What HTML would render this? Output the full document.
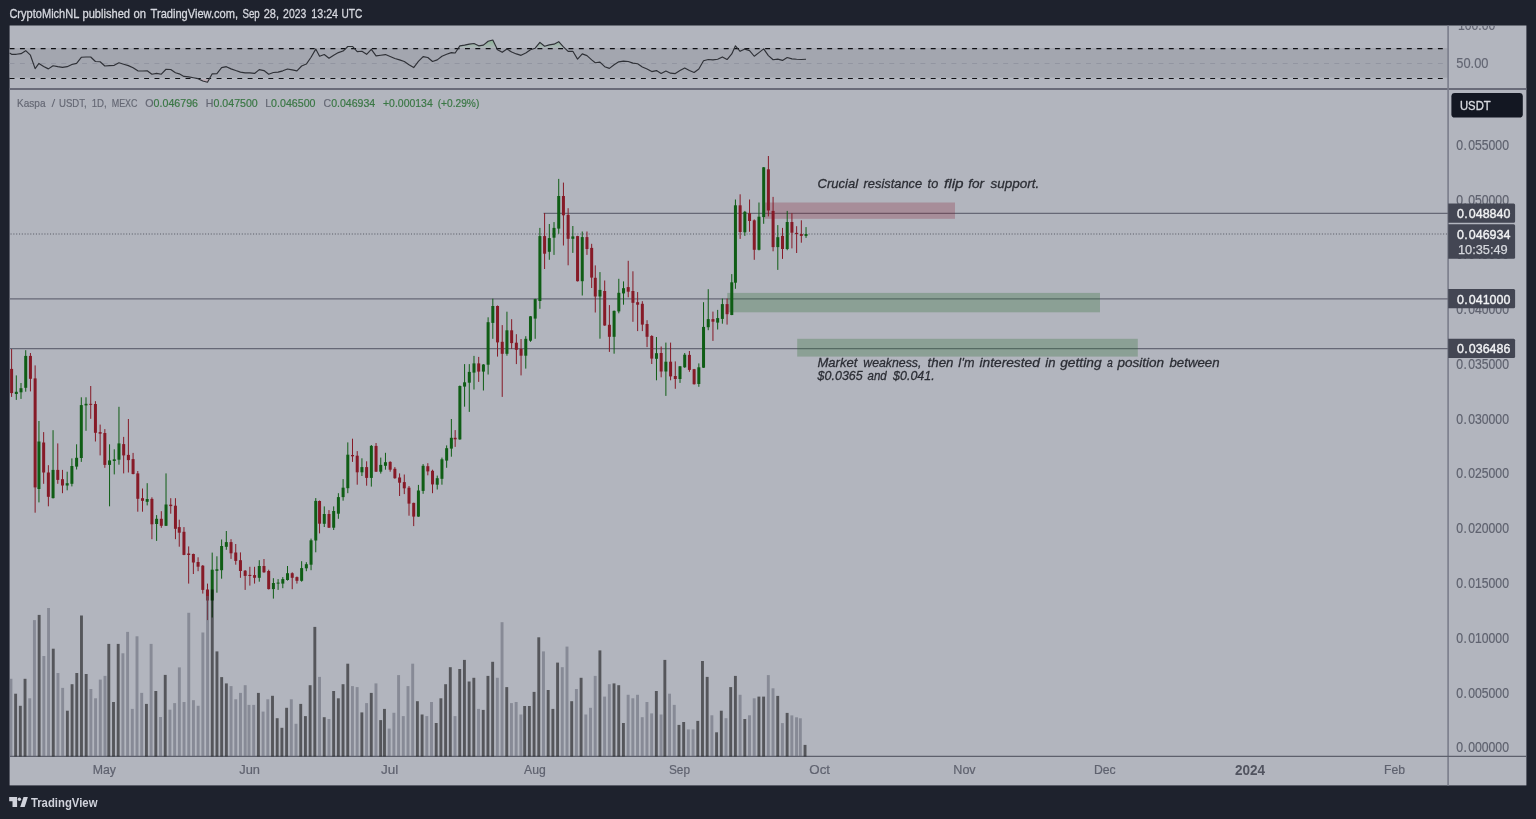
<!DOCTYPE html>
<html lang="en"><head><meta charset="utf-8"><title>KASUSDT chart</title>
<style>html,body{margin:0;padding:0;background:#1e222d;overflow:hidden}body{width:1536px;height:819px;position:relative}svg{position:absolute;left:0;top:0;display:block}text{font-family:'Liberation Sans', Arial, sans-serif;white-space:pre}</style>
</head><body>
<svg width="1536" height="819" viewBox="0 0 1536 819">
<defs><clipPath id="cp"><rect x="9.6" y="25.5" width="1516.8" height="759.9"/></clipPath><linearGradient id="gu" gradientUnits="userSpaceOnUse" x1="0" y1="48.6" x2="0" y2="26.3"><stop offset="0" stop-color="#4caf50" stop-opacity="0.02"/><stop offset="1" stop-color="#4caf50" stop-opacity="1"/></linearGradient><linearGradient id="gd" gradientUnits="userSpaceOnUse" x1="0" y1="78.4" x2="0" y2="100.7"><stop offset="0" stop-color="#ff5252" stop-opacity="0.02"/><stop offset="1" stop-color="#ff5252" stop-opacity="1"/></linearGradient></defs>
<rect x="0" y="0" width="1536" height="819" fill="#1e222d"/>
<rect x="9.6" y="25.5" width="1516.8" height="759.9" fill="#b2b5be"/>
<g id="rsi">
<rect x="9.6" y="48.1" width="1438.5" height="29.5" fill="#a3a6af"/>
<polygon points="345.62,48.6 347.8,46.48 352.51,46.48 354.42,48.6" fill="url(#gu)"/>
<polygon points="458.05,48.6 459.87,45.83 464.58,45.18 469.29,44.14 473.99,43.49 478.7,45.83 483.41,45.18 488.11,41.28 492.82,39.97 496.98,48.6" fill="url(#gu)"/>
<polygon points="533.91,48.6 535.18,48.18 539.89,42.32 544.6,46.22 549.3,44.92 554.01,44.14 558.72,41.67 563.43,46.88 565.26,48.6" fill="url(#gu)"/>
<polygon points="734.18,48.6 735.43,45.83 737.82,48.6" fill="url(#gu)"/>
<polygon points="196.81,78.4 198.08,78.65 202.79,80.99 207.49,82.29 209.66,78.4" fill="url(#gd)"/>
<line x1="9.6" y1="63.5" x2="1448.1" y2="63.5" stroke="#9295a1" stroke-width="1" stroke-dasharray="4.9 5.45"/>
<line x1="9.6" y1="48.55" x2="1448.1" y2="48.55" stroke="#0d0e12" stroke-width="1.15" stroke-dasharray="4.9 5.45"/>
<line x1="9.6" y1="78.5" x2="1448.1" y2="78.5" stroke="#0d0e12" stroke-width="1.15" stroke-dasharray="4.9 5.45"/>
<polyline fill="none" stroke="#2f3137" stroke-width="1.15" stroke-linejoin="round" points="9.6,52.99 11.6,54.3 16.31,54.3 21.01,53.65 25.72,50.65 30.43,55.21 35.13,68.62 38.94,63.41 43.65,66.41 48.36,68.88 53.06,65.76 57.77,66.67 62.48,67.32 67.18,66.67 71.89,64.45 76.6,63.41 81.3,57.29 86.01,57.03 90.72,57.03 95.43,61.46 100.13,61.72 104.84,66.02 109.55,65.62 114.25,65.36 118.96,62.76 123.67,64.32 128.38,65.62 133.08,67.71 137.79,70.83 142.5,70.96 147.2,70.83 151.91,74.22 156.62,73.44 161.32,74.22 166.03,69.27 170.74,69.53 175.44,72.79 179.25,73.83 183.96,76.43 188.67,76.82 193.37,77.73 198.08,78.65 202.79,80.99 207.49,82.29 212.2,73.83 216.91,73.57 221.61,67.58 226.32,66.67 231.03,68.88 235.74,70.57 240.44,72.14 245.15,72.92 249.86,72.92 254.56,73.44 259.27,69.66 263.98,70.57 268.69,74.22 273.39,72.53 278.1,72.14 282.81,70.83 287.51,69.01 292.22,69.92 296.93,70.83 301.63,66.02 306.34,64.06 311.05,57.29 315.75,49.09 319.56,56.25 324.27,54.56 328.98,58.2 333.68,55.21 338.39,52.6 343.1,51.04 347.8,46.48 352.51,46.48 357.22,51.69 361.93,51.3 366.63,54.3 371.34,49.35 376.05,55.86 380.75,55.21 385.46,54.56 390.17,56.51 394.87,58.46 399.58,59.9 404.29,61.46 409,64.71 413.7,67.58 418.41,61.46 423.12,56.64 427.82,57.55 432.53,61.46 437.24,59.9 441.94,56.25 446.65,54.3 451.36,52.6 455.16,52.99 459.87,45.83 464.58,45.18 469.29,44.14 473.99,43.49 478.7,45.83 483.41,45.18 488.11,41.28 492.82,39.97 497.53,49.74 502.23,52.34 506.94,49.09 511.65,51.95 516.36,53.91 521.06,55.34 525.77,52.99 530.48,49.74 535.18,48.18 539.89,42.32 544.6,46.22 549.3,44.92 554.01,44.14 558.72,41.67 563.43,46.88 568.13,51.3 572.84,51.3 577.55,59.11 582.25,53.91 586.96,55.6 591.67,59.9 595.27,62.76 599.98,62.11 604.69,66.67 609.4,68.36 614.1,64.71 618.81,61.85 623.52,61.07 628.22,61.46 632.93,63.15 637.64,63.8 642.34,66.93 647.05,69.01 651.76,71.61 656.47,70.57 661.17,73.44 665.88,70.96 670.59,73.18 675.29,73.57 680,70.57 684.71,67.97 689.41,70.57 694.12,72.53 698.83,69.01 703.54,60.81 708.24,59.51 712.95,59.9 717.66,59.24 722.36,56.9 727.07,59.51 731.78,53.91 735.43,45.83 740.14,51.3 744.85,49.09 749.56,50.65 754.26,56.25 758.97,52.6 763.68,48.83 768.38,55.6 773.09,59.77 777.8,59.11 782.5,60.42 787.21,57.55 791.92,58.85 796.63,59.24 801.33,59.51 806.04,59.24"/>
</g>
<line x1="9.6" y1="89" x2="1526.4" y2="89" stroke="#696b79" stroke-width="2"/>
<line x1="1448.1" y1="25.5" x2="1448.1" y2="785.4" stroke="#7b7e8c" stroke-width="1.65"/>
<line x1="9.6" y1="756.4" x2="1526.4" y2="756.4" stroke="#5d606c" stroke-width="1.3"/>
<g id="levels">
<line x1="9.6" y1="298.8" x2="1448.1" y2="298.8" stroke="#666876" stroke-width="1.3"/>
<line x1="9.6" y1="348.63" x2="1448.1" y2="348.63" stroke="#666876" stroke-width="1.26"/>
<line x1="543.6" y1="213.33" x2="1448.1" y2="213.33" stroke="#666876" stroke-width="1.3"/>
<line x1="10.51" y1="234" x2="1448.1" y2="234" stroke="#5b5e69" stroke-width="1.1" stroke-dasharray="1.1 1.72"/>
</g>
<g id="zones">
<rect x="764.7" y="202.5" width="190.3" height="16.3" fill="#86172a" fill-opacity="0.25"/>
<rect x="727.3" y="292.9" width="372.7" height="19.4" fill="#336f39" fill-opacity="0.3"/>
<rect x="797.2" y="338.8" width="340.6" height="17.8" fill="#336f39" fill-opacity="0.3"/>
</g>
<g id="candles">
<path d="M11.6 349.1V396.9" stroke="#861a27" stroke-width="1" fill="none"/><rect x="10.1" y="368.9" width="3" height="24.2" fill="#861a27"/>
<path d="M16.31 375.4V399.9" stroke="#0f5d15" stroke-width="1" fill="none"/><rect x="14.81" y="391.8" width="3" height="2.2" fill="#0f5d15"/>
<path d="M21.01 383V398.9" stroke="#0f5d15" stroke-width="1" fill="none"/><rect x="19.51" y="388.2" width="3" height="4.1" fill="#0f5d15"/>
<path d="M25.72 350.2V391.7" stroke="#0f5d15" stroke-width="1" fill="none"/><rect x="24.22" y="355.9" width="3" height="31.9" fill="#0f5d15"/>
<path d="M30.43 353V391.4" stroke="#861a27" stroke-width="1" fill="none"/><rect x="28.93" y="355.9" width="3" height="22.9" fill="#861a27"/>
<path d="M35.13 365.4V512.7" stroke="#861a27" stroke-width="1" fill="none"/><rect x="33.63" y="378.4" width="3" height="109" fill="#861a27"/>
<path d="M38.94 421V502.4" stroke="#0f5d15" stroke-width="1" fill="none"/><rect x="37.44" y="441.5" width="3" height="47.5" fill="#0f5d15"/>
<path d="M43.65 432.1V483.8" stroke="#861a27" stroke-width="1" fill="none"/><rect x="42.15" y="442.5" width="3" height="30" fill="#861a27"/>
<path d="M48.36 465.2V506.3" stroke="#861a27" stroke-width="1" fill="none"/><rect x="46.86" y="472.5" width="3" height="24.3" fill="#861a27"/>
<path d="M53.06 430.2V498.5" stroke="#0f5d15" stroke-width="1" fill="none"/><rect x="51.56" y="469.9" width="3" height="28.2" fill="#0f5d15"/>
<path d="M57.77 443.4V483.8" stroke="#861a27" stroke-width="1" fill="none"/><rect x="56.27" y="469.9" width="3" height="10" fill="#861a27"/>
<path d="M62.48 469.9V493.2" stroke="#861a27" stroke-width="1" fill="none"/><rect x="60.98" y="479.2" width="3" height="6.3" fill="#861a27"/>
<path d="M67.18 471.7V490.3" stroke="#0f5d15" stroke-width="1" fill="none"/><rect x="65.68" y="483.2" width="3" height="2.3" fill="#0f5d15"/>
<path d="M71.89 458.4V486.4" stroke="#0f5d15" stroke-width="1" fill="none"/><rect x="70.39" y="466" width="3" height="17.8" fill="#0f5d15"/>
<path d="M76.6 444.3V469.5" stroke="#0f5d15" stroke-width="1" fill="none"/><rect x="75.1" y="457.8" width="3" height="8.8" fill="#0f5d15"/>
<path d="M81.3 397.3V461.9" stroke="#0f5d15" stroke-width="1" fill="none"/><rect x="79.8" y="405.1" width="3" height="52.9" fill="#0f5d15"/>
<path d="M86.01 397.3V430.8" stroke="#0f5d15" stroke-width="1" fill="none"/><rect x="84.51" y="403.8" width="3" height="1.6" fill="#0f5d15"/>
<path d="M90.72 386V418.8" stroke="#861a27" stroke-width="1" fill="none"/><rect x="89.22" y="403.85" width="3" height="1" fill="#861a27"/>
<path d="M95.43 401.2V441.5" stroke="#861a27" stroke-width="1" fill="none"/><rect x="93.93" y="404" width="3" height="28.8" fill="#861a27"/>
<path d="M100.13 424.6V455.4" stroke="#861a27" stroke-width="1" fill="none"/><rect x="98.63" y="432.1" width="3" height="1.6" fill="#861a27"/>
<path d="M104.84 429.1V467.8" stroke="#861a27" stroke-width="1" fill="none"/><rect x="103.34" y="433" width="3" height="31.9" fill="#861a27"/>
<path d="M109.55 444.3V506.3" stroke="#0f5d15" stroke-width="1" fill="none"/><rect x="108.05" y="460.4" width="3" height="4.5" fill="#0f5d15"/>
<path d="M114.25 449.3V474.4" stroke="#0f5d15" stroke-width="1" fill="none"/><rect x="112.75" y="459.3" width="3" height="1.7" fill="#0f5d15"/>
<path d="M118.96 406.8V464.7" stroke="#0f5d15" stroke-width="1" fill="none"/><rect x="117.46" y="443.4" width="3" height="16.3" fill="#0f5d15"/>
<path d="M123.67 436.9V473.4" stroke="#861a27" stroke-width="1" fill="none"/><rect x="122.17" y="444.1" width="3" height="11.3" fill="#861a27"/>
<path d="M128.38 419V472.5" stroke="#861a27" stroke-width="1" fill="none"/><rect x="126.88" y="454.9" width="3" height="5.2" fill="#861a27"/>
<path d="M133.08 452.9V474.4" stroke="#861a27" stroke-width="1" fill="none"/><rect x="131.58" y="459.1" width="3" height="14.9" fill="#861a27"/>
<path d="M137.79 471V511.7" stroke="#861a27" stroke-width="1" fill="none"/><rect x="136.29" y="473.4" width="3" height="25.4" fill="#861a27"/>
<path d="M142.5 488.5V511.7" stroke="#861a27" stroke-width="1" fill="none"/><rect x="141" y="498.2" width="3" height="2.6" fill="#861a27"/>
<path d="M147.2 483.2V505.4" stroke="#0f5d15" stroke-width="1" fill="none"/><rect x="145.7" y="499" width="3" height="2.8" fill="#0f5d15"/>
<path d="M151.91 497.3V539.2" stroke="#861a27" stroke-width="1" fill="none"/><rect x="150.41" y="498.9" width="3" height="25.4" fill="#861a27"/>
<path d="M156.62 515.1V540.9" stroke="#0f5d15" stroke-width="1" fill="none"/><rect x="155.12" y="518.8" width="3" height="5.2" fill="#0f5d15"/>
<path d="M161.32 511.2V527.8" stroke="#861a27" stroke-width="1" fill="none"/><rect x="159.82" y="518.8" width="3" height="7" fill="#861a27"/>
<path d="M166.03 473.4V526" stroke="#0f5d15" stroke-width="1" fill="none"/><rect x="164.53" y="504.5" width="3" height="21.3" fill="#0f5d15"/>
<path d="M170.74 498.2V513.7" stroke="#861a27" stroke-width="1" fill="none"/><rect x="169.24" y="504.7" width="3" height="1.4" fill="#861a27"/>
<path d="M175.44 498.2V539.2" stroke="#861a27" stroke-width="1" fill="none"/><rect x="173.94" y="505.7" width="3" height="23.1" fill="#861a27"/>
<path d="M179.25 519.7V546.7" stroke="#861a27" stroke-width="1" fill="none"/><rect x="177.75" y="527.1" width="3" height="5.6" fill="#861a27"/>
<path d="M183.96 527.1V555.2" stroke="#861a27" stroke-width="1" fill="none"/><rect x="182.46" y="531.8" width="3" height="23.1" fill="#861a27"/>
<path d="M188.67 546.4V583.6" stroke="#861a27" stroke-width="1" fill="none"/><rect x="187.17" y="553.5" width="3" height="1.5" fill="#861a27"/>
<path d="M193.37 553.6V574" stroke="#861a27" stroke-width="1" fill="none"/><rect x="191.87" y="554" width="3" height="8.5" fill="#861a27"/>
<path d="M198.08 557.3V571.2" stroke="#861a27" stroke-width="1" fill="none"/><rect x="196.58" y="562" width="3" height="4.7" fill="#861a27"/>
<path d="M202.79 565V593.6" stroke="#861a27" stroke-width="1" fill="none"/><rect x="201.29" y="565.7" width="3" height="24.2" fill="#861a27"/>
<path d="M207.49 583.6V620.1" stroke="#861a27" stroke-width="1" fill="none"/><rect x="205.99" y="589.5" width="3" height="11" fill="#861a27"/>
<path d="M212.2 552.6V617.5" stroke="#0f5d15" stroke-width="1" fill="none"/><rect x="210.7" y="569.7" width="3" height="30.8" fill="#0f5d15"/>
<path d="M216.91 556.3V592.7" stroke="#0f5d15" stroke-width="1" fill="none"/><rect x="215.41" y="569.3" width="3" height="1.5" fill="#0f5d15"/>
<path d="M221.61 539.5V578.7" stroke="#0f5d15" stroke-width="1" fill="none"/><rect x="220.11" y="546" width="3" height="24.2" fill="#0f5d15"/>
<path d="M226.32 531V549.8" stroke="#0f5d15" stroke-width="1" fill="none"/><rect x="224.82" y="542.1" width="3" height="4.7" fill="#0f5d15"/>
<path d="M231.03 539.2V558.9" stroke="#861a27" stroke-width="1" fill="none"/><rect x="229.53" y="542.1" width="3" height="11.2" fill="#861a27"/>
<path d="M235.74 544V564.7" stroke="#861a27" stroke-width="1" fill="none"/><rect x="234.24" y="552.5" width="3" height="8.4" fill="#861a27"/>
<path d="M240.44 552.4V577.8" stroke="#861a27" stroke-width="1" fill="none"/><rect x="238.94" y="560.2" width="3" height="10.8" fill="#861a27"/>
<path d="M245.15 570V589.9" stroke="#861a27" stroke-width="1" fill="none"/><rect x="243.65" y="570.7" width="3" height="5.2" fill="#861a27"/>
<path d="M249.86 566.8V585.6" stroke="#861a27" stroke-width="1" fill="none"/><rect x="248.36" y="574.9" width="3" height="1.1" fill="#861a27"/>
<path d="M254.56 566.8V583.6" stroke="#861a27" stroke-width="1" fill="none"/><rect x="253.06" y="575.1" width="3" height="2.7" fill="#861a27"/>
<path d="M259.27 560.2V581.7" stroke="#0f5d15" stroke-width="1" fill="none"/><rect x="257.77" y="566" width="3" height="11.8" fill="#0f5d15"/>
<path d="M263.98 559V572.8" stroke="#861a27" stroke-width="1" fill="none"/><rect x="262.48" y="566" width="3" height="6.3" fill="#861a27"/>
<path d="M268.69 569.7V589.5" stroke="#861a27" stroke-width="1" fill="none"/><rect x="267.19" y="571" width="3" height="18.1" fill="#861a27"/>
<path d="M273.39 578.2V598.6" stroke="#0f5d15" stroke-width="1" fill="none"/><rect x="271.89" y="583" width="3" height="6.1" fill="#0f5d15"/>
<path d="M278.1 579.1V589.9" stroke="#0f5d15" stroke-width="1" fill="none"/><rect x="276.6" y="582.6" width="3" height="1" fill="#0f5d15"/>
<path d="M282.81 577.1V588.2" stroke="#0f5d15" stroke-width="1" fill="none"/><rect x="281.31" y="579.1" width="3" height="4.5" fill="#0f5d15"/>
<path d="M287.51 566V580.6" stroke="#0f5d15" stroke-width="1" fill="none"/><rect x="286.01" y="573.2" width="3" height="6.8" fill="#0f5d15"/>
<path d="M292.22 572.3V589.2" stroke="#861a27" stroke-width="1" fill="none"/><rect x="290.72" y="573.2" width="3" height="4.6" fill="#861a27"/>
<path d="M296.93 576.5V583.6" stroke="#861a27" stroke-width="1" fill="none"/><rect x="295.43" y="577.1" width="3" height="3.7" fill="#861a27"/>
<path d="M301.63 561.2V581.7" stroke="#0f5d15" stroke-width="1" fill="none"/><rect x="300.13" y="568.1" width="3" height="12.7" fill="#0f5d15"/>
<path d="M306.34 562.2V571.2" stroke="#0f5d15" stroke-width="1" fill="none"/><rect x="304.84" y="564.2" width="3" height="4.1" fill="#0f5d15"/>
<path d="M311.05 538.6V570.2" stroke="#0f5d15" stroke-width="1" fill="none"/><rect x="309.55" y="540.3" width="3" height="24.4" fill="#0f5d15"/>
<path d="M315.75 498.1V552.3" stroke="#0f5d15" stroke-width="1" fill="none"/><rect x="314.25" y="500.9" width="3" height="39.6" fill="#0f5d15"/>
<path d="M319.56 500.5V533.4" stroke="#861a27" stroke-width="1" fill="none"/><rect x="318.06" y="501" width="3" height="22.7" fill="#861a27"/>
<path d="M324.27 506.4V527" stroke="#0f5d15" stroke-width="1" fill="none"/><rect x="322.77" y="514" width="3" height="9.8" fill="#0f5d15"/>
<path d="M328.98 510.1V528" stroke="#861a27" stroke-width="1" fill="none"/><rect x="327.48" y="514" width="3" height="13.7" fill="#861a27"/>
<path d="M333.68 506.4V530" stroke="#0f5d15" stroke-width="1" fill="none"/><rect x="332.18" y="511" width="3" height="16.7" fill="#0f5d15"/>
<path d="M338.39 493.2V518.8" stroke="#0f5d15" stroke-width="1" fill="none"/><rect x="336.89" y="497.1" width="3" height="16.6" fill="#0f5d15"/>
<path d="M343.1 479.1V500.7" stroke="#0f5d15" stroke-width="1" fill="none"/><rect x="341.6" y="487.7" width="3" height="9.4" fill="#0f5d15"/>
<path d="M347.8 442.4V493.2" stroke="#0f5d15" stroke-width="1" fill="none"/><rect x="346.3" y="454.7" width="3" height="33.5" fill="#0f5d15"/>
<path d="M352.51 438.7V461.9" stroke="#861a27" stroke-width="1" fill="none"/><rect x="351.01" y="455" width="3" height="1.3" fill="#861a27"/>
<path d="M357.22 451.1V484.7" stroke="#861a27" stroke-width="1" fill="none"/><rect x="355.72" y="455.7" width="3" height="16.6" fill="#861a27"/>
<path d="M361.93 458.3V476" stroke="#0f5d15" stroke-width="1" fill="none"/><rect x="360.43" y="467.1" width="3" height="5.2" fill="#0f5d15"/>
<path d="M366.63 461.3V485.7" stroke="#861a27" stroke-width="1" fill="none"/><rect x="365.13" y="467.1" width="3" height="10.8" fill="#861a27"/>
<path d="M371.34 445V486.6" stroke="#0f5d15" stroke-width="1" fill="none"/><rect x="369.84" y="445.9" width="3" height="32" fill="#0f5d15"/>
<path d="M376.05 443V472" stroke="#861a27" stroke-width="1" fill="none"/><rect x="374.55" y="445.9" width="3" height="25.8" fill="#861a27"/>
<path d="M380.75 457.6V473.6" stroke="#0f5d15" stroke-width="1" fill="none"/><rect x="379.25" y="464.9" width="3" height="6.8" fill="#0f5d15"/>
<path d="M385.46 452.8V469.7" stroke="#0f5d15" stroke-width="1" fill="none"/><rect x="383.96" y="462.2" width="3" height="3.6" fill="#0f5d15"/>
<path d="M390.17 461.3V471.7" stroke="#861a27" stroke-width="1" fill="none"/><rect x="388.67" y="461.9" width="3" height="7.8" fill="#861a27"/>
<path d="M394.87 467.1V478.8" stroke="#861a27" stroke-width="1" fill="none"/><rect x="393.37" y="468.8" width="3" height="9.4" fill="#861a27"/>
<path d="M399.58 473.4V496" stroke="#861a27" stroke-width="1" fill="none"/><rect x="398.08" y="477.5" width="3" height="5.2" fill="#861a27"/>
<path d="M404.29 474.5V494.1" stroke="#861a27" stroke-width="1" fill="none"/><rect x="402.79" y="482.1" width="3" height="6.2" fill="#861a27"/>
<path d="M409 486V515.7" stroke="#861a27" stroke-width="1" fill="none"/><rect x="407.5" y="487.7" width="3" height="15.9" fill="#861a27"/>
<path d="M413.7 502.7V526.1" stroke="#861a27" stroke-width="1" fill="none"/><rect x="412.2" y="502.9" width="3" height="13.7" fill="#861a27"/>
<path d="M418.41 484.9V516.8" stroke="#0f5d15" stroke-width="1" fill="none"/><rect x="416.91" y="490.5" width="3" height="26.1" fill="#0f5d15"/>
<path d="M423.12 464.1V493.8" stroke="#0f5d15" stroke-width="1" fill="none"/><rect x="421.62" y="465.8" width="3" height="25.1" fill="#0f5d15"/>
<path d="M427.82 463.2V475.3" stroke="#861a27" stroke-width="1" fill="none"/><rect x="426.32" y="466.2" width="3" height="5.2" fill="#861a27"/>
<path d="M432.53 469.7V493.2" stroke="#861a27" stroke-width="1" fill="none"/><rect x="431.03" y="470.8" width="3" height="13.6" fill="#861a27"/>
<path d="M437.24 475.6V489.5" stroke="#0f5d15" stroke-width="1" fill="none"/><rect x="435.74" y="478.2" width="3" height="6.5" fill="#0f5d15"/>
<path d="M441.94 457.6V484.7" stroke="#0f5d15" stroke-width="1" fill="none"/><rect x="440.44" y="459.3" width="3" height="19.5" fill="#0f5d15"/>
<path d="M446.65 445.4V467.8" stroke="#0f5d15" stroke-width="1" fill="none"/><rect x="445.15" y="448.2" width="3" height="12.4" fill="#0f5d15"/>
<path d="M451.36 419V456.7" stroke="#0f5d15" stroke-width="1" fill="none"/><rect x="449.86" y="437.8" width="3" height="10.8" fill="#0f5d15"/>
<path d="M455.16 430.1V446.9" stroke="#861a27" stroke-width="1" fill="none"/><rect x="453.66" y="437.8" width="3" height="1.5" fill="#861a27"/>
<path d="M459.87 385.5V439.8" stroke="#0f5d15" stroke-width="1" fill="none"/><rect x="458.37" y="386" width="3" height="53.4" fill="#0f5d15"/>
<path d="M464.58 364.1V406.7" stroke="#0f5d15" stroke-width="1" fill="none"/><rect x="463.08" y="382.3" width="3" height="4.3" fill="#0f5d15"/>
<path d="M469.29 364.1V411.9" stroke="#0f5d15" stroke-width="1" fill="none"/><rect x="467.79" y="371.9" width="3" height="10.8" fill="#0f5d15"/>
<path d="M473.99 355.9V389.5" stroke="#0f5d15" stroke-width="1" fill="none"/><rect x="472.49" y="363.4" width="3" height="9.2" fill="#0f5d15"/>
<path d="M478.7 356.9V381.9" stroke="#861a27" stroke-width="1" fill="none"/><rect x="477.2" y="363.4" width="3" height="8.2" fill="#861a27"/>
<path d="M483.41 364.1V390.5" stroke="#0f5d15" stroke-width="1" fill="none"/><rect x="481.91" y="364.5" width="3" height="7.1" fill="#0f5d15"/>
<path d="M488.11 317.3V374.5" stroke="#0f5d15" stroke-width="1" fill="none"/><rect x="486.61" y="322.2" width="3" height="42.5" fill="#0f5d15"/>
<path d="M492.82 298.7V338.8" stroke="#0f5d15" stroke-width="1" fill="none"/><rect x="491.32" y="306" width="3" height="16.9" fill="#0f5d15"/>
<path d="M497.53 305.5V356.6" stroke="#861a27" stroke-width="1" fill="none"/><rect x="496.03" y="306" width="3" height="36.4" fill="#861a27"/>
<path d="M502.23 325.1V396.9" stroke="#861a27" stroke-width="1" fill="none"/><rect x="500.73" y="341.8" width="3" height="12" fill="#861a27"/>
<path d="M506.94 311.7V355.7" stroke="#0f5d15" stroke-width="1" fill="none"/><rect x="505.44" y="330.3" width="3" height="23.5" fill="#0f5d15"/>
<path d="M511.65 319.2V348.9" stroke="#861a27" stroke-width="1" fill="none"/><rect x="510.15" y="330.3" width="3" height="12.8" fill="#861a27"/>
<path d="M516.36 334.2V364.1" stroke="#861a27" stroke-width="1" fill="none"/><rect x="514.86" y="342.7" width="3" height="7.1" fill="#861a27"/>
<path d="M521.06 339V375.4" stroke="#861a27" stroke-width="1" fill="none"/><rect x="519.56" y="348.9" width="3" height="6.8" fill="#861a27"/>
<path d="M525.77 336.2V368.6" stroke="#0f5d15" stroke-width="1" fill="none"/><rect x="524.27" y="338.8" width="3" height="16.9" fill="#0f5d15"/>
<path d="M530.48 316V341.8" stroke="#0f5d15" stroke-width="1" fill="none"/><rect x="528.98" y="316.3" width="3" height="24.4" fill="#0f5d15"/>
<path d="M535.18 298.7V338.8" stroke="#0f5d15" stroke-width="1" fill="none"/><rect x="533.68" y="299.1" width="3" height="19.5" fill="#0f5d15"/>
<path d="M539.89 227.9V308.8" stroke="#0f5d15" stroke-width="1" fill="none"/><rect x="538.39" y="236.1" width="3" height="64.9" fill="#0f5d15"/>
<path d="M544.6 213V269" stroke="#861a27" stroke-width="1" fill="none"/><rect x="543.1" y="236.1" width="3" height="17.6" fill="#861a27"/>
<path d="M549.3 224V259.8" stroke="#0f5d15" stroke-width="1" fill="none"/><rect x="547.8" y="238.1" width="3" height="13.7" fill="#0f5d15"/>
<path d="M554.01 222.1V254.9" stroke="#0f5d15" stroke-width="1" fill="none"/><rect x="552.51" y="227.9" width="3" height="9.8" fill="#0f5d15"/>
<path d="M558.72 178.9V233.8" stroke="#0f5d15" stroke-width="1" fill="none"/><rect x="557.22" y="196" width="3" height="32.6" fill="#0f5d15"/>
<path d="M563.43 182.6V245.5" stroke="#861a27" stroke-width="1" fill="none"/><rect x="561.93" y="196" width="3" height="19.3" fill="#861a27"/>
<path d="M568.13 208.2V265.3" stroke="#861a27" stroke-width="1" fill="none"/><rect x="566.63" y="214.9" width="3" height="23.9" fill="#861a27"/>
<path d="M572.84 226V252.9" stroke="#0f5d15" stroke-width="1" fill="none"/><rect x="571.34" y="236.4" width="3" height="2.4" fill="#0f5d15"/>
<path d="M577.55 235.8V281.5" stroke="#861a27" stroke-width="1" fill="none"/><rect x="576.05" y="236.1" width="3" height="45.1" fill="#861a27"/>
<path d="M582.25 231.5V295.5" stroke="#0f5d15" stroke-width="1" fill="none"/><rect x="580.75" y="237.1" width="3" height="44.1" fill="#0f5d15"/>
<path d="M586.96 231.5V254.9" stroke="#861a27" stroke-width="1" fill="none"/><rect x="585.46" y="237.1" width="3" height="11.9" fill="#861a27"/>
<path d="M591.67 243.8V288" stroke="#861a27" stroke-width="1" fill="none"/><rect x="590.17" y="247.9" width="3" height="29.7" fill="#861a27"/>
<path d="M595.27 265.4V312.5" stroke="#861a27" stroke-width="1" fill="none"/><rect x="593.77" y="277.8" width="3" height="18.7" fill="#861a27"/>
<path d="M599.98 272.1V338.7" stroke="#0f5d15" stroke-width="1" fill="none"/><rect x="598.48" y="289.9" width="3" height="6.6" fill="#0f5d15"/>
<path d="M604.69 280.5V325.8" stroke="#861a27" stroke-width="1" fill="none"/><rect x="603.19" y="291" width="3" height="34.5" fill="#861a27"/>
<path d="M609.4 305.1V351.9" stroke="#861a27" stroke-width="1" fill="none"/><rect x="607.9" y="324.8" width="3" height="12" fill="#861a27"/>
<path d="M614.1 310.5V353.7" stroke="#0f5d15" stroke-width="1" fill="none"/><rect x="612.6" y="310.9" width="3" height="25.9" fill="#0f5d15"/>
<path d="M618.81 278.8V313.3" stroke="#0f5d15" stroke-width="1" fill="none"/><rect x="617.31" y="292.8" width="3" height="18.6" fill="#0f5d15"/>
<path d="M623.52 281.4V304.7" stroke="#0f5d15" stroke-width="1" fill="none"/><rect x="622.02" y="288.2" width="3" height="5.2" fill="#0f5d15"/>
<path d="M628.22 260.8V297.3" stroke="#861a27" stroke-width="1" fill="none"/><rect x="626.72" y="287.1" width="3" height="4.6" fill="#861a27"/>
<path d="M632.93 271.3V321.8" stroke="#861a27" stroke-width="1" fill="none"/><rect x="631.43" y="291" width="3" height="11.8" fill="#861a27"/>
<path d="M637.64 292.1V331.1" stroke="#861a27" stroke-width="1" fill="none"/><rect x="636.14" y="302.2" width="3" height="2.5" fill="#861a27"/>
<path d="M642.34 301.2V331.1" stroke="#861a27" stroke-width="1" fill="none"/><rect x="640.84" y="303.8" width="3" height="20.8" fill="#861a27"/>
<path d="M647.05 320.2V347.1" stroke="#861a27" stroke-width="1" fill="none"/><rect x="645.55" y="324" width="3" height="12.8" fill="#861a27"/>
<path d="M651.76 335.2V364" stroke="#861a27" stroke-width="1" fill="none"/><rect x="650.26" y="336" width="3" height="22.6" fill="#861a27"/>
<path d="M656.47 337V380.3" stroke="#0f5d15" stroke-width="1" fill="none"/><rect x="654.97" y="353.2" width="3" height="5.6" fill="#0f5d15"/>
<path d="M661.17 346.5V377.3" stroke="#861a27" stroke-width="1" fill="none"/><rect x="659.67" y="353" width="3" height="18.5" fill="#861a27"/>
<path d="M665.88 342.6V395.9" stroke="#0f5d15" stroke-width="1" fill="none"/><rect x="664.38" y="361.7" width="3" height="9.8" fill="#0f5d15"/>
<path d="M670.59 342.6V380.3" stroke="#861a27" stroke-width="1" fill="none"/><rect x="669.09" y="361.7" width="3" height="14.7" fill="#861a27"/>
<path d="M675.29 361.4V388.8" stroke="#861a27" stroke-width="1" fill="none"/><rect x="673.79" y="376" width="3" height="3" fill="#861a27"/>
<path d="M680 366V382.9" stroke="#0f5d15" stroke-width="1" fill="none"/><rect x="678.5" y="366.3" width="3" height="12.7" fill="#0f5d15"/>
<path d="M684.71 353V367.9" stroke="#0f5d15" stroke-width="1" fill="none"/><rect x="683.21" y="354.7" width="3" height="12.6" fill="#0f5d15"/>
<path d="M689.41 351V371.8" stroke="#861a27" stroke-width="1" fill="none"/><rect x="687.91" y="354.9" width="3" height="15" fill="#861a27"/>
<path d="M694.12 368.9V384.6" stroke="#861a27" stroke-width="1" fill="none"/><rect x="692.62" y="369.2" width="3" height="15" fill="#861a27"/>
<path d="M698.83 363.4V386.8" stroke="#0f5d15" stroke-width="1" fill="none"/><rect x="697.33" y="367.3" width="3" height="16.7" fill="#0f5d15"/>
<path d="M703.54 302.2V367.9" stroke="#0f5d15" stroke-width="1" fill="none"/><rect x="702.04" y="326.9" width="3" height="40.8" fill="#0f5d15"/>
<path d="M708.24 289.2V330.2" stroke="#0f5d15" stroke-width="1" fill="none"/><rect x="706.74" y="319.1" width="3" height="8.1" fill="#0f5d15"/>
<path d="M712.95 311.6V340.9" stroke="#861a27" stroke-width="1" fill="none"/><rect x="711.45" y="319.1" width="3" height="2.6" fill="#861a27"/>
<path d="M717.66 309.9V329.5" stroke="#0f5d15" stroke-width="1" fill="none"/><rect x="716.16" y="318.1" width="3" height="4.5" fill="#0f5d15"/>
<path d="M722.36 298.6V323.7" stroke="#0f5d15" stroke-width="1" fill="none"/><rect x="720.86" y="304.1" width="3" height="14.8" fill="#0f5d15"/>
<path d="M727.07 298.6V324.6" stroke="#861a27" stroke-width="1" fill="none"/><rect x="725.57" y="304.1" width="3" height="10.1" fill="#861a27"/>
<path d="M731.78 274.1V315.2" stroke="#0f5d15" stroke-width="1" fill="none"/><rect x="730.28" y="282.3" width="3" height="32.7" fill="#0f5d15"/>
<path d="M735.43 199.5V288.8" stroke="#0f5d15" stroke-width="1" fill="none"/><rect x="733.93" y="205.3" width="3" height="77.4" fill="#0f5d15"/>
<path d="M740.14 194.3V238.9" stroke="#861a27" stroke-width="1" fill="none"/><rect x="738.64" y="205.3" width="3" height="26.7" fill="#861a27"/>
<path d="M744.85 210.9V235.9" stroke="#0f5d15" stroke-width="1" fill="none"/><rect x="743.35" y="211.8" width="3" height="20.5" fill="#0f5d15"/>
<path d="M749.56 199.5V231.8" stroke="#861a27" stroke-width="1" fill="none"/><rect x="748.06" y="213.2" width="3" height="7.8" fill="#861a27"/>
<path d="M754.26 219.4V259.8" stroke="#861a27" stroke-width="1" fill="none"/><rect x="752.76" y="220.3" width="3" height="29.5" fill="#861a27"/>
<path d="M758.97 202.5V250.4" stroke="#0f5d15" stroke-width="1" fill="none"/><rect x="757.47" y="216.7" width="3" height="33.1" fill="#0f5d15"/>
<path d="M763.68 167V223.8" stroke="#0f5d15" stroke-width="1" fill="none"/><rect x="762.18" y="167.3" width="3" height="49.8" fill="#0f5d15"/>
<path d="M768.38 156V216.4" stroke="#861a27" stroke-width="1" fill="none"/><rect x="766.88" y="169.3" width="3" height="41.2" fill="#861a27"/>
<path d="M773.09 196.9V251.3" stroke="#861a27" stroke-width="1" fill="none"/><rect x="771.59" y="210.9" width="3" height="36.2" fill="#861a27"/>
<path d="M777.8 225.1V269.9" stroke="#0f5d15" stroke-width="1" fill="none"/><rect x="776.3" y="237.2" width="3" height="9.9" fill="#0f5d15"/>
<path d="M782.5 227.9V258.9" stroke="#861a27" stroke-width="1" fill="none"/><rect x="781" y="235.9" width="3" height="13.1" fill="#861a27"/>
<path d="M787.21 210.9V250.2" stroke="#0f5d15" stroke-width="1" fill="none"/><rect x="785.71" y="222" width="3" height="27" fill="#0f5d15"/>
<path d="M791.92 213.2V248.4" stroke="#861a27" stroke-width="1" fill="none"/><rect x="790.42" y="222" width="3" height="10.7" fill="#861a27"/>
<path d="M796.63 226.2V253" stroke="#861a27" stroke-width="1" fill="none"/><rect x="795.13" y="232.9" width="3" height="1.1" fill="#861a27"/>
<path d="M801.33 220.3V242.7" stroke="#861a27" stroke-width="1" fill="none"/><rect x="799.83" y="234" width="3" height="1.9" fill="#861a27"/>
<path d="M806.04 227.1V237.9" stroke="#0f5d15" stroke-width="1" fill="none"/><rect x="804.54" y="234" width="3" height="1.9" fill="#0f5d15"/>
</g>
<g id="volume">
<rect x="9.48" y="678.8" width="2.9" height="77.6" fill="#5c5f6e" fill-opacity="0.5"/>
<rect x="14.18" y="693.7" width="2.9" height="62.7" fill="#000" fill-opacity="0.52"/>
<rect x="18.89" y="705.8" width="2.9" height="50.6" fill="#000" fill-opacity="0.52"/>
<rect x="23.59" y="678.8" width="2.9" height="77.6" fill="#000" fill-opacity="0.52"/>
<rect x="28.29" y="698.3" width="2.9" height="58.1" fill="#5c5f6e" fill-opacity="0.5"/>
<rect x="32.99" y="620.1" width="2.9" height="136.3" fill="#5c5f6e" fill-opacity="0.5"/>
<rect x="37.7" y="614.9" width="2.9" height="141.5" fill="#000" fill-opacity="0.52"/>
<rect x="42.4" y="656" width="2.9" height="100.4" fill="#5c5f6e" fill-opacity="0.5"/>
<rect x="47.1" y="608" width="2.9" height="148.4" fill="#5c5f6e" fill-opacity="0.5"/>
<rect x="51.81" y="648.7" width="2.9" height="107.7" fill="#000" fill-opacity="0.52"/>
<rect x="56.51" y="673" width="2.9" height="83.4" fill="#5c5f6e" fill-opacity="0.5"/>
<rect x="61.21" y="687.9" width="2.9" height="68.5" fill="#5c5f6e" fill-opacity="0.5"/>
<rect x="65.92" y="710.7" width="2.9" height="45.7" fill="#000" fill-opacity="0.52"/>
<rect x="70.62" y="684.2" width="2.9" height="72.2" fill="#000" fill-opacity="0.52"/>
<rect x="75.32" y="673" width="2.9" height="83.4" fill="#000" fill-opacity="0.52"/>
<rect x="80.02" y="615.5" width="2.9" height="140.9" fill="#000" fill-opacity="0.52"/>
<rect x="84.73" y="674" width="2.9" height="82.4" fill="#000" fill-opacity="0.52"/>
<rect x="89.43" y="689" width="2.9" height="67.4" fill="#5c5f6e" fill-opacity="0.5"/>
<rect x="94.13" y="698.3" width="2.9" height="58.1" fill="#5c5f6e" fill-opacity="0.5"/>
<rect x="98.84" y="679.6" width="2.9" height="76.8" fill="#5c5f6e" fill-opacity="0.5"/>
<rect x="103.54" y="675.9" width="2.9" height="80.5" fill="#5c5f6e" fill-opacity="0.5"/>
<rect x="107.34" y="643.9" width="2.9" height="112.5" fill="#000" fill-opacity="0.52"/>
<rect x="112.05" y="702" width="2.9" height="54.4" fill="#000" fill-opacity="0.52"/>
<rect x="116.75" y="643.9" width="2.9" height="112.5" fill="#000" fill-opacity="0.52"/>
<rect x="121.45" y="653.3" width="2.9" height="103.1" fill="#5c5f6e" fill-opacity="0.5"/>
<rect x="126.15" y="631.9" width="2.9" height="124.5" fill="#5c5f6e" fill-opacity="0.5"/>
<rect x="130.86" y="708.9" width="2.9" height="47.5" fill="#5c5f6e" fill-opacity="0.5"/>
<rect x="135.56" y="636.3" width="2.9" height="120.1" fill="#5c5f6e" fill-opacity="0.5"/>
<rect x="140.26" y="692.9" width="2.9" height="63.5" fill="#5c5f6e" fill-opacity="0.5"/>
<rect x="144.97" y="703.9" width="2.9" height="52.5" fill="#000" fill-opacity="0.52"/>
<rect x="149.67" y="643.9" width="2.9" height="112.5" fill="#5c5f6e" fill-opacity="0.5"/>
<rect x="154.37" y="691" width="2.9" height="65.4" fill="#000" fill-opacity="0.52"/>
<rect x="159.08" y="717" width="2.9" height="39.4" fill="#5c5f6e" fill-opacity="0.5"/>
<rect x="163.78" y="674.9" width="2.9" height="81.5" fill="#000" fill-opacity="0.52"/>
<rect x="168.48" y="709.7" width="2.9" height="46.7" fill="#5c5f6e" fill-opacity="0.5"/>
<rect x="173.19" y="703.1" width="2.9" height="53.3" fill="#5c5f6e" fill-opacity="0.5"/>
<rect x="177.89" y="667.4" width="2.9" height="89" fill="#5c5f6e" fill-opacity="0.5"/>
<rect x="182.59" y="702" width="2.9" height="54.4" fill="#5c5f6e" fill-opacity="0.5"/>
<rect x="187.29" y="612.8" width="2.9" height="143.6" fill="#5c5f6e" fill-opacity="0.5"/>
<rect x="192" y="700.2" width="2.9" height="56.2" fill="#5c5f6e" fill-opacity="0.5"/>
<rect x="196.7" y="705.8" width="2.9" height="50.6" fill="#5c5f6e" fill-opacity="0.5"/>
<rect x="201.4" y="632.5" width="2.9" height="123.9" fill="#5c5f6e" fill-opacity="0.5"/>
<rect x="206.11" y="596" width="2.9" height="160.4" fill="#5c5f6e" fill-opacity="0.5"/>
<rect x="210.81" y="589.5" width="2.9" height="166.9" fill="#000" fill-opacity="0.52"/>
<rect x="215.51" y="651.4" width="2.9" height="105" fill="#000" fill-opacity="0.52"/>
<rect x="220.22" y="677.1" width="2.9" height="79.3" fill="#000" fill-opacity="0.52"/>
<rect x="224.92" y="683.4" width="2.9" height="73" fill="#000" fill-opacity="0.52"/>
<rect x="229.62" y="686.1" width="2.9" height="70.3" fill="#5c5f6e" fill-opacity="0.5"/>
<rect x="234.32" y="699.3" width="2.9" height="57.1" fill="#5c5f6e" fill-opacity="0.5"/>
<rect x="239.03" y="692.9" width="2.9" height="63.5" fill="#5c5f6e" fill-opacity="0.5"/>
<rect x="243.73" y="685.2" width="2.9" height="71.2" fill="#5c5f6e" fill-opacity="0.5"/>
<rect x="247.53" y="704.9" width="2.9" height="51.5" fill="#5c5f6e" fill-opacity="0.5"/>
<rect x="252.24" y="704.9" width="2.9" height="51.5" fill="#5c5f6e" fill-opacity="0.5"/>
<rect x="256.94" y="692.9" width="2.9" height="63.5" fill="#000" fill-opacity="0.52"/>
<rect x="261.64" y="711.6" width="2.9" height="44.8" fill="#5c5f6e" fill-opacity="0.5"/>
<rect x="266.35" y="699.3" width="2.9" height="57.1" fill="#5c5f6e" fill-opacity="0.5"/>
<rect x="271.05" y="695.8" width="2.9" height="60.6" fill="#000" fill-opacity="0.52"/>
<rect x="275.75" y="718.2" width="2.9" height="38.2" fill="#000" fill-opacity="0.52"/>
<rect x="280.45" y="727.8" width="2.9" height="28.6" fill="#000" fill-opacity="0.52"/>
<rect x="285.16" y="707.8" width="2.9" height="48.6" fill="#000" fill-opacity="0.52"/>
<rect x="289.86" y="699.3" width="2.9" height="57.1" fill="#5c5f6e" fill-opacity="0.5"/>
<rect x="294.56" y="723.8" width="2.9" height="32.6" fill="#5c5f6e" fill-opacity="0.5"/>
<rect x="299.27" y="703.9" width="2.9" height="52.5" fill="#000" fill-opacity="0.52"/>
<rect x="303.97" y="716.1" width="2.9" height="40.3" fill="#000" fill-opacity="0.52"/>
<rect x="308.67" y="685.2" width="2.9" height="71.2" fill="#000" fill-opacity="0.52"/>
<rect x="313.38" y="626.9" width="2.9" height="129.5" fill="#000" fill-opacity="0.52"/>
<rect x="318.08" y="676.9" width="2.9" height="79.5" fill="#5c5f6e" fill-opacity="0.5"/>
<rect x="322.78" y="717.2" width="2.9" height="39.2" fill="#000" fill-opacity="0.52"/>
<rect x="327.48" y="719" width="2.9" height="37.4" fill="#5c5f6e" fill-opacity="0.5"/>
<rect x="332.19" y="691" width="2.9" height="65.4" fill="#000" fill-opacity="0.52"/>
<rect x="336.89" y="698.3" width="2.9" height="58.1" fill="#000" fill-opacity="0.52"/>
<rect x="341.59" y="684.2" width="2.9" height="72.2" fill="#000" fill-opacity="0.52"/>
<rect x="346.3" y="663.7" width="2.9" height="92.7" fill="#000" fill-opacity="0.52"/>
<rect x="351" y="686.1" width="2.9" height="70.3" fill="#5c5f6e" fill-opacity="0.5"/>
<rect x="355.7" y="687.1" width="2.9" height="69.3" fill="#5c5f6e" fill-opacity="0.5"/>
<rect x="360.41" y="712.4" width="2.9" height="44" fill="#000" fill-opacity="0.52"/>
<rect x="365.11" y="703.1" width="2.9" height="53.3" fill="#5c5f6e" fill-opacity="0.5"/>
<rect x="369.81" y="692.9" width="2.9" height="63.5" fill="#000" fill-opacity="0.52"/>
<rect x="374.51" y="683.4" width="2.9" height="73" fill="#5c5f6e" fill-opacity="0.5"/>
<rect x="379.22" y="720.1" width="2.9" height="36.3" fill="#000" fill-opacity="0.52"/>
<rect x="383.02" y="708.9" width="2.9" height="47.5" fill="#000" fill-opacity="0.52"/>
<rect x="387.72" y="728.6" width="2.9" height="27.8" fill="#5c5f6e" fill-opacity="0.5"/>
<rect x="392.43" y="712.8" width="2.9" height="43.6" fill="#5c5f6e" fill-opacity="0.5"/>
<rect x="397.13" y="675.1" width="2.9" height="81.3" fill="#5c5f6e" fill-opacity="0.5"/>
<rect x="401.83" y="716.1" width="2.9" height="40.3" fill="#5c5f6e" fill-opacity="0.5"/>
<rect x="406.54" y="686.1" width="2.9" height="70.3" fill="#5c5f6e" fill-opacity="0.5"/>
<rect x="411.24" y="663.7" width="2.9" height="92.7" fill="#5c5f6e" fill-opacity="0.5"/>
<rect x="415.94" y="701.2" width="2.9" height="55.2" fill="#000" fill-opacity="0.52"/>
<rect x="420.64" y="714.5" width="2.9" height="41.9" fill="#000" fill-opacity="0.52"/>
<rect x="425.35" y="716.1" width="2.9" height="40.3" fill="#5c5f6e" fill-opacity="0.5"/>
<rect x="430.05" y="702" width="2.9" height="54.4" fill="#5c5f6e" fill-opacity="0.5"/>
<rect x="434.75" y="723" width="2.9" height="33.4" fill="#000" fill-opacity="0.52"/>
<rect x="439.46" y="698.3" width="2.9" height="58.1" fill="#000" fill-opacity="0.52"/>
<rect x="444.16" y="684.2" width="2.9" height="72.2" fill="#000" fill-opacity="0.52"/>
<rect x="448.86" y="667.2" width="2.9" height="89.2" fill="#000" fill-opacity="0.52"/>
<rect x="453.57" y="716.1" width="2.9" height="40.3" fill="#5c5f6e" fill-opacity="0.5"/>
<rect x="458.27" y="669" width="2.9" height="87.4" fill="#000" fill-opacity="0.52"/>
<rect x="462.97" y="659.9" width="2.9" height="96.5" fill="#000" fill-opacity="0.52"/>
<rect x="467.67" y="681.5" width="2.9" height="74.9" fill="#000" fill-opacity="0.52"/>
<rect x="472.38" y="677.8" width="2.9" height="78.6" fill="#000" fill-opacity="0.52"/>
<rect x="477.08" y="708.9" width="2.9" height="47.5" fill="#5c5f6e" fill-opacity="0.5"/>
<rect x="481.78" y="709.9" width="2.9" height="46.5" fill="#000" fill-opacity="0.52"/>
<rect x="486.49" y="675.9" width="2.9" height="80.5" fill="#000" fill-opacity="0.52"/>
<rect x="491.19" y="661.8" width="2.9" height="94.6" fill="#000" fill-opacity="0.52"/>
<rect x="495.89" y="677.8" width="2.9" height="78.6" fill="#5c5f6e" fill-opacity="0.5"/>
<rect x="500.6" y="622.2" width="2.9" height="134.2" fill="#5c5f6e" fill-opacity="0.5"/>
<rect x="505.3" y="687.1" width="2.9" height="69.3" fill="#000" fill-opacity="0.52"/>
<rect x="510" y="703.1" width="2.9" height="53.3" fill="#5c5f6e" fill-opacity="0.5"/>
<rect x="514.7" y="702" width="2.9" height="54.4" fill="#5c5f6e" fill-opacity="0.5"/>
<rect x="519.41" y="714.5" width="2.9" height="41.9" fill="#5c5f6e" fill-opacity="0.5"/>
<rect x="523.21" y="706" width="2.9" height="50.4" fill="#000" fill-opacity="0.52"/>
<rect x="527.91" y="706" width="2.9" height="50.4" fill="#000" fill-opacity="0.52"/>
<rect x="532.62" y="691.9" width="2.9" height="64.5" fill="#000" fill-opacity="0.52"/>
<rect x="537.32" y="637.3" width="2.9" height="119.1" fill="#000" fill-opacity="0.52"/>
<rect x="542.02" y="651.4" width="2.9" height="105" fill="#5c5f6e" fill-opacity="0.5"/>
<rect x="546.72" y="690" width="2.9" height="66.4" fill="#000" fill-opacity="0.52"/>
<rect x="551.43" y="708.9" width="2.9" height="47.5" fill="#000" fill-opacity="0.52"/>
<rect x="556.13" y="662.6" width="2.9" height="93.8" fill="#000" fill-opacity="0.52"/>
<rect x="560.83" y="667.2" width="2.9" height="89.2" fill="#5c5f6e" fill-opacity="0.5"/>
<rect x="565.54" y="646.6" width="2.9" height="109.8" fill="#5c5f6e" fill-opacity="0.5"/>
<rect x="570.24" y="701.2" width="2.9" height="55.2" fill="#000" fill-opacity="0.52"/>
<rect x="574.94" y="689" width="2.9" height="67.4" fill="#5c5f6e" fill-opacity="0.5"/>
<rect x="579.65" y="677.8" width="2.9" height="78.6" fill="#000" fill-opacity="0.52"/>
<rect x="584.35" y="714.5" width="2.9" height="41.9" fill="#5c5f6e" fill-opacity="0.5"/>
<rect x="589.05" y="707.8" width="2.9" height="48.6" fill="#5c5f6e" fill-opacity="0.5"/>
<rect x="593.75" y="675.9" width="2.9" height="80.5" fill="#5c5f6e" fill-opacity="0.5"/>
<rect x="598.46" y="650.4" width="2.9" height="106" fill="#000" fill-opacity="0.52"/>
<rect x="603.16" y="696.6" width="2.9" height="59.8" fill="#5c5f6e" fill-opacity="0.5"/>
<rect x="607.86" y="684.2" width="2.9" height="72.2" fill="#5c5f6e" fill-opacity="0.5"/>
<rect x="612.57" y="683.4" width="2.9" height="73" fill="#000" fill-opacity="0.52"/>
<rect x="617.27" y="685.2" width="2.9" height="71.2" fill="#000" fill-opacity="0.52"/>
<rect x="621.97" y="723" width="2.9" height="33.4" fill="#000" fill-opacity="0.52"/>
<rect x="626.68" y="694.8" width="2.9" height="61.6" fill="#5c5f6e" fill-opacity="0.5"/>
<rect x="631.38" y="698.3" width="2.9" height="58.1" fill="#5c5f6e" fill-opacity="0.5"/>
<rect x="636.08" y="694.8" width="2.9" height="61.6" fill="#5c5f6e" fill-opacity="0.5"/>
<rect x="640.78" y="717.2" width="2.9" height="39.2" fill="#5c5f6e" fill-opacity="0.5"/>
<rect x="645.49" y="702" width="2.9" height="54.4" fill="#5c5f6e" fill-opacity="0.5"/>
<rect x="650.19" y="713.4" width="2.9" height="43" fill="#5c5f6e" fill-opacity="0.5"/>
<rect x="654.89" y="691" width="2.9" height="65.4" fill="#000" fill-opacity="0.52"/>
<rect x="659.6" y="714.5" width="2.9" height="41.9" fill="#5c5f6e" fill-opacity="0.5"/>
<rect x="663.4" y="659.9" width="2.9" height="96.5" fill="#000" fill-opacity="0.52"/>
<rect x="668.1" y="693.7" width="2.9" height="62.7" fill="#5c5f6e" fill-opacity="0.5"/>
<rect x="672.81" y="704.9" width="2.9" height="51.5" fill="#5c5f6e" fill-opacity="0.5"/>
<rect x="677.51" y="724.9" width="2.9" height="31.5" fill="#000" fill-opacity="0.52"/>
<rect x="682.21" y="722" width="2.9" height="34.4" fill="#000" fill-opacity="0.52"/>
<rect x="686.91" y="729.4" width="2.9" height="27" fill="#5c5f6e" fill-opacity="0.5"/>
<rect x="691.62" y="729.4" width="2.9" height="27" fill="#5c5f6e" fill-opacity="0.5"/>
<rect x="696.32" y="720.9" width="2.9" height="35.5" fill="#000" fill-opacity="0.52"/>
<rect x="701.02" y="661" width="2.9" height="95.4" fill="#000" fill-opacity="0.52"/>
<rect x="705.73" y="676.9" width="2.9" height="79.5" fill="#000" fill-opacity="0.52"/>
<rect x="710.43" y="715.3" width="2.9" height="41.1" fill="#5c5f6e" fill-opacity="0.5"/>
<rect x="715.13" y="732.3" width="2.9" height="24.1" fill="#000" fill-opacity="0.52"/>
<rect x="719.84" y="710.7" width="2.9" height="45.7" fill="#000" fill-opacity="0.52"/>
<rect x="724.54" y="718.2" width="2.9" height="38.2" fill="#5c5f6e" fill-opacity="0.5"/>
<rect x="729.24" y="687.1" width="2.9" height="69.3" fill="#000" fill-opacity="0.52"/>
<rect x="733.94" y="675.9" width="2.9" height="80.5" fill="#000" fill-opacity="0.52"/>
<rect x="738.65" y="694.8" width="2.9" height="61.6" fill="#5c5f6e" fill-opacity="0.5"/>
<rect x="743.35" y="719" width="2.9" height="37.4" fill="#000" fill-opacity="0.52"/>
<rect x="748.05" y="715.3" width="2.9" height="41.1" fill="#5c5f6e" fill-opacity="0.5"/>
<rect x="752.76" y="698.3" width="2.9" height="58.1" fill="#5c5f6e" fill-opacity="0.5"/>
<rect x="757.46" y="696.6" width="2.9" height="59.8" fill="#000" fill-opacity="0.52"/>
<rect x="762.16" y="696.6" width="2.9" height="59.8" fill="#000" fill-opacity="0.52"/>
<rect x="766.87" y="675.1" width="2.9" height="81.3" fill="#5c5f6e" fill-opacity="0.5"/>
<rect x="771.57" y="688.3" width="2.9" height="68.1" fill="#5c5f6e" fill-opacity="0.5"/>
<rect x="776.27" y="695.9" width="2.9" height="60.5" fill="#000" fill-opacity="0.52"/>
<rect x="780.97" y="723.1" width="2.9" height="33.3" fill="#5c5f6e" fill-opacity="0.5"/>
<rect x="785.68" y="712.9" width="2.9" height="43.5" fill="#000" fill-opacity="0.52"/>
<rect x="790.38" y="715.4" width="2.9" height="41" fill="#5c5f6e" fill-opacity="0.5"/>
<rect x="795.08" y="717.3" width="2.9" height="39.1" fill="#5c5f6e" fill-opacity="0.5"/>
<rect x="798.89" y="718.3" width="2.9" height="38.1" fill="#5c5f6e" fill-opacity="0.5"/>
<rect x="803.59" y="744.9" width="2.9" height="11.5" fill="#000" fill-opacity="0.52"/>
</g>
<g id="labels">
<text y="17.75" font-size="12.2" fill="#d6d8df" stroke="#d6d8df" stroke-width="0.3" stroke-linejoin="round"><tspan x="9.4" textLength="69.6" lengthAdjust="spacingAndGlyphs">CryptoMichNL</tspan> <tspan x="82.5" textLength="47.52" lengthAdjust="spacingAndGlyphs">published</tspan> <tspan x="133.5" textLength="12.53" lengthAdjust="spacingAndGlyphs">on</tspan> <tspan x="150.6" textLength="87.48" lengthAdjust="spacingAndGlyphs">TradingView.com,</tspan> <tspan x="242.5" textLength="17.24" lengthAdjust="spacingAndGlyphs">Sep</tspan> <tspan x="263.75" textLength="15.25" lengthAdjust="spacingAndGlyphs">28,</tspan> <tspan x="283.1" textLength="23.15" lengthAdjust="spacingAndGlyphs">2023</tspan> <tspan x="311.25" textLength="26.82" lengthAdjust="spacingAndGlyphs">13:24</tspan> <tspan x="341.5" textLength="20.75" lengthAdjust="spacingAndGlyphs">UTC</tspan></text>
<text y="107.4" font-size="11.6" fill="#656874" stroke="#656874" stroke-width="0.2" stroke-linejoin="round"><tspan x="17" textLength="28.46" lengthAdjust="spacingAndGlyphs">Kaspa</tspan> <tspan x="51.4" textLength="3.77" lengthAdjust="spacingAndGlyphs" stroke="none">/</tspan> <tspan x="59" textLength="27.69" lengthAdjust="spacingAndGlyphs">USDT,</tspan> <tspan x="91.7" textLength="15.01" lengthAdjust="spacingAndGlyphs">1D,</tspan> <tspan x="111.7" textLength="25.79" lengthAdjust="spacingAndGlyphs">MEXC</tspan> <tspan x="145.3" textLength="52.69" lengthAdjust="spacingAndGlyphs">O<tspan fill="#3a7744" stroke="#3a7744">0.046796</tspan></tspan> <tspan x="205.8" textLength="51.98" lengthAdjust="spacingAndGlyphs">H<tspan fill="#3a7744" stroke="#3a7744">0.047500</tspan></tspan> <tspan x="265.2" textLength="50.32" lengthAdjust="spacingAndGlyphs">L<tspan fill="#3a7744" stroke="#3a7744">0.046500</tspan></tspan> <tspan x="323.5" textLength="51.68" lengthAdjust="spacingAndGlyphs">C<tspan fill="#3a7744" stroke="#3a7744">0.046934</tspan></tspan> <tspan x="383" textLength="49.7" lengthAdjust="spacingAndGlyphs"><tspan fill="#3a7744" stroke="#3a7744">+0.000134</tspan></tspan> <tspan x="437.7" textLength="41.61" lengthAdjust="spacingAndGlyphs"><tspan fill="#3a7744" stroke="#3a7744">(+0.29%)</tspan></tspan></text>
<text transform="translate(1456.3 149.95) scale(0.8738 1)" font-size="14" fill="#5f626f" dx="0 0.32 1.62" stroke="#5f626f" stroke-width="0.2" stroke-linejoin="round">0.055000</text>
<text transform="translate(1456.3 204.55) scale(0.8738 1)" font-size="14" fill="#5f626f" dx="0 0.32 1.62" stroke="#5f626f" stroke-width="0.2" stroke-linejoin="round">0.050000</text>
<text transform="translate(1456.3 259.25) scale(0.8738 1)" font-size="14" fill="#5f626f" dx="0 0.32 1.62" stroke="#5f626f" stroke-width="0.2" stroke-linejoin="round">0.045000</text>
<text transform="translate(1456.3 313.95) scale(0.8738 1)" font-size="14" fill="#5f626f" dx="0 0.32 1.62" stroke="#5f626f" stroke-width="0.2" stroke-linejoin="round">0.040000</text>
<text transform="translate(1456.3 369.05) scale(0.8738 1)" font-size="14" fill="#5f626f" dx="0 0.32 1.62" stroke="#5f626f" stroke-width="0.2" stroke-linejoin="round">0.035000</text>
<text transform="translate(1456.3 423.55) scale(0.8738 1)" font-size="14" fill="#5f626f" dx="0 0.32 1.62" stroke="#5f626f" stroke-width="0.2" stroke-linejoin="round">0.030000</text>
<text transform="translate(1456.3 478.25) scale(0.8738 1)" font-size="14" fill="#5f626f" dx="0 0.32 1.62" stroke="#5f626f" stroke-width="0.2" stroke-linejoin="round">0.025000</text>
<text transform="translate(1456.3 532.95) scale(0.8738 1)" font-size="14" fill="#5f626f" dx="0 0.32 1.62" stroke="#5f626f" stroke-width="0.2" stroke-linejoin="round">0.020000</text>
<text transform="translate(1456.3 587.65) scale(0.8738 1)" font-size="14" fill="#5f626f" dx="0 0.32 1.62" stroke="#5f626f" stroke-width="0.2" stroke-linejoin="round">0.015000</text>
<text transform="translate(1456.3 642.85) scale(0.8738 1)" font-size="14" fill="#5f626f" dx="0 0.32 1.62" stroke="#5f626f" stroke-width="0.2" stroke-linejoin="round">0.010000</text>
<text transform="translate(1456.3 697.65) scale(0.8738 1)" font-size="14" fill="#5f626f" dx="0 0.32 1.62" stroke="#5f626f" stroke-width="0.2" stroke-linejoin="round">0.005000</text>
<text transform="translate(1456.3 752.05) scale(0.8738 1)" font-size="14" fill="#5f626f" dx="0 0.32 1.62" stroke="#5f626f" stroke-width="0.2" stroke-linejoin="round">0.000000</text>
<g clip-path="url(#cp)">
<text y="30" font-size="14" fill="#636673" stroke="#636673" stroke-width="0.15" stroke-linejoin="round"><tspan x="1457.9" textLength="37.38" lengthAdjust="spacingAndGlyphs">100.00</tspan></text>
</g>
<text y="68.3" font-size="14" fill="#636673" stroke="#636673" stroke-width="0.15" stroke-linejoin="round"><tspan x="1456.3" textLength="32.17" lengthAdjust="spacingAndGlyphs">50.00</tspan></text>
<text y="774.4" font-size="13.4" fill="#5f626f" stroke="#5f626f" stroke-width="0.22" stroke-linejoin="round"><tspan x="92.7" textLength="23.29" lengthAdjust="spacingAndGlyphs">May</tspan></text>
<text y="774.4" font-size="13.4" fill="#5f626f" stroke="#5f626f" stroke-width="0.22" stroke-linejoin="round"><tspan x="239.3" textLength="20.73" lengthAdjust="spacingAndGlyphs">Jun</tspan></text>
<text y="774.4" font-size="13.4" fill="#5f626f" stroke="#5f626f" stroke-width="0.22" stroke-linejoin="round"><tspan x="381" textLength="17.28" lengthAdjust="spacingAndGlyphs">Jul</tspan></text>
<text y="774.4" font-size="13.4" fill="#5f626f" stroke="#5f626f" stroke-width="0.22" stroke-linejoin="round"><tspan x="524" textLength="21.69" lengthAdjust="spacingAndGlyphs">Aug</tspan></text>
<text y="774.4" font-size="13.4" fill="#5f626f" stroke="#5f626f" stroke-width="0.22" stroke-linejoin="round"><tspan x="669" textLength="20.99" lengthAdjust="spacingAndGlyphs">Sep</tspan></text>
<text y="774.4" font-size="13.4" fill="#5f626f" stroke="#5f626f" stroke-width="0.22" stroke-linejoin="round"><tspan x="809.3" textLength="20.71" lengthAdjust="spacingAndGlyphs">Oct</tspan></text>
<text y="774.4" font-size="13.4" fill="#5f626f" stroke="#5f626f" stroke-width="0.22" stroke-linejoin="round"><tspan x="953.3" textLength="22.38" lengthAdjust="spacingAndGlyphs">Nov</tspan></text>
<text y="774.4" font-size="13.4" fill="#5f626f" stroke="#5f626f" stroke-width="0.22" stroke-linejoin="round"><tspan x="1094" textLength="21.68" lengthAdjust="spacingAndGlyphs">Dec</tspan></text>
<text y="774.4" font-size="13.4" fill="#5f626f" stroke="#5f626f" stroke-width="0.22" stroke-linejoin="round"><tspan x="1384" textLength="20.98" lengthAdjust="spacingAndGlyphs">Feb</tspan></text>
<text y="774.5" font-size="13.9" fill="#50535f" font-weight="bold"><tspan x="1234.9" textLength="30.1" lengthAdjust="spacingAndGlyphs">2024</tspan></text>
<text y="187.55" font-size="13.4" fill="#2b2d34" font-style="italic" stroke="#2b2d34" stroke-width="0.28" stroke-linejoin="round"><tspan x="817.5" textLength="40.6" lengthAdjust="spacingAndGlyphs">Crucial</tspan> <tspan x="863.6" textLength="58.57" lengthAdjust="spacingAndGlyphs">resistance</tspan> <tspan x="927.6" textLength="10.64" lengthAdjust="spacingAndGlyphs">to</tspan> <tspan x="944" textLength="19.57" lengthAdjust="spacingAndGlyphs">flip</tspan> <tspan x="968.25" textLength="15.93" lengthAdjust="spacingAndGlyphs">for</tspan> <tspan x="990.4" textLength="48.88" lengthAdjust="spacingAndGlyphs">support.</tspan></text>
<text y="367.05" font-size="13.4" fill="#2b2d34" font-style="italic" stroke="#2b2d34" stroke-width="0.28" stroke-linejoin="round"><tspan x="817.5" textLength="39.8" lengthAdjust="spacingAndGlyphs">Market</tspan> <tspan x="863.25" textLength="58.15" lengthAdjust="spacingAndGlyphs">weakness,</tspan> <tspan x="927.6" textLength="25.82" lengthAdjust="spacingAndGlyphs">then</tspan> <tspan x="958.1" textLength="16.42" lengthAdjust="spacingAndGlyphs">I'm</tspan> <tspan x="979.5" textLength="60.31" lengthAdjust="spacingAndGlyphs">interested</tspan> <tspan x="1045.3" textLength="10.18" lengthAdjust="spacingAndGlyphs">in</tspan> <tspan x="1060.2" textLength="41.37" lengthAdjust="spacingAndGlyphs">getting</tspan> <tspan x="1107" textLength="5.81" lengthAdjust="spacingAndGlyphs">a</tspan> <tspan x="1117.54" textLength="46.59" lengthAdjust="spacingAndGlyphs">position</tspan> <tspan x="1169.5" textLength="50.01" lengthAdjust="spacingAndGlyphs">between</tspan></text>
<text y="380.2" font-size="13.4" fill="#2b2d34" font-style="italic" stroke="#2b2d34" stroke-width="0.28" stroke-linejoin="round"><tspan x="817.62" textLength="45.11" lengthAdjust="spacingAndGlyphs">$0.0365</tspan> <tspan x="867.5" textLength="19.2" lengthAdjust="spacingAndGlyphs">and</tspan> <tspan x="893.12" textLength="41.49" lengthAdjust="spacingAndGlyphs">$0.041.</tspan></text>
</g>
<g id="pricelabels">
<path d="M1448.2 203.4H1513.6a1.5 1.5 0 0 1 1.5 1.5V221.2a1.5 1.5 0 0 1 -1.5 1.5H1448.2Z" fill="#434653"/>
<text transform="translate(1457 218.3) scale(0.9172 1)" font-size="13.6" fill="#f1f2f4" dx="0 0.24 1.29" stroke="#f1f2f4" stroke-width="0.4" stroke-linejoin="round">0.048840</text>
<path d="M1448.2 224.2H1513.6a1.5 1.5 0 0 1 1.5 1.5V257.2a1.5 1.5 0 0 1 -1.5 1.5H1448.2Z" fill="#434653"/>
<text transform="translate(1457 239.1) scale(0.9172 1)" font-size="13.6" fill="#f1f2f4" dx="0 0.24 1.29" stroke="#f1f2f4" stroke-width="0.4" stroke-linejoin="round">0.046934</text>
<text y="254.1" font-size="12.8" fill="#d6d8de" stroke="#d6d8de" stroke-width="0.25" stroke-linejoin="round"><tspan x="1457.9" textLength="49.87" lengthAdjust="spacingAndGlyphs">10:35:49</tspan></text>
<path d="M1448.2 288.9H1513.6a1.5 1.5 0 0 1 1.5 1.5V306.8a1.5 1.5 0 0 1 -1.5 1.5H1448.2Z" fill="#434653"/>
<text transform="translate(1457 303.6) scale(0.9172 1)" font-size="13.6" fill="#f1f2f4" dx="0 0.24 1.29" stroke="#f1f2f4" stroke-width="0.4" stroke-linejoin="round">0.041000</text>
<path d="M1448.2 338.7H1513.6a1.5 1.5 0 0 1 1.5 1.5V356.6a1.5 1.5 0 0 1 -1.5 1.5H1448.2Z" fill="#434653"/>
<text transform="translate(1457 353.3) scale(0.9172 1)" font-size="13.6" fill="#f1f2f4" dx="0 0.24 1.29" stroke="#f1f2f4" stroke-width="0.4" stroke-linejoin="round">0.036486</text>
<rect x="1451.4" y="93.1" width="71.4" height="24.5" rx="3.4" fill="#131722"/>
<text y="109.9" font-size="12.4" fill="#d9dbe0" stroke="#d9dbe0" stroke-width="0.35" stroke-linejoin="round"><tspan x="1460" textLength="30.63" lengthAdjust="spacingAndGlyphs">USDT</tspan></text>
</g>
<g id="logo" fill="#d0d2db">
<path d="M9.2 797.1H17.1V807.1H12.5V801.3H9.2Z"/>
<circle cx="19.4" cy="799.2" r="1.7"/>
<path d="M23.5 797.1H27.9L24.7 807.1H20.2Z"/>
<text y="807.1" font-size="12.8" fill="#d0d2db" font-weight="bold"><tspan x="30.9" textLength="66.57" lengthAdjust="spacingAndGlyphs">TradingView</tspan></text>
</g>
</svg>
</body></html>
